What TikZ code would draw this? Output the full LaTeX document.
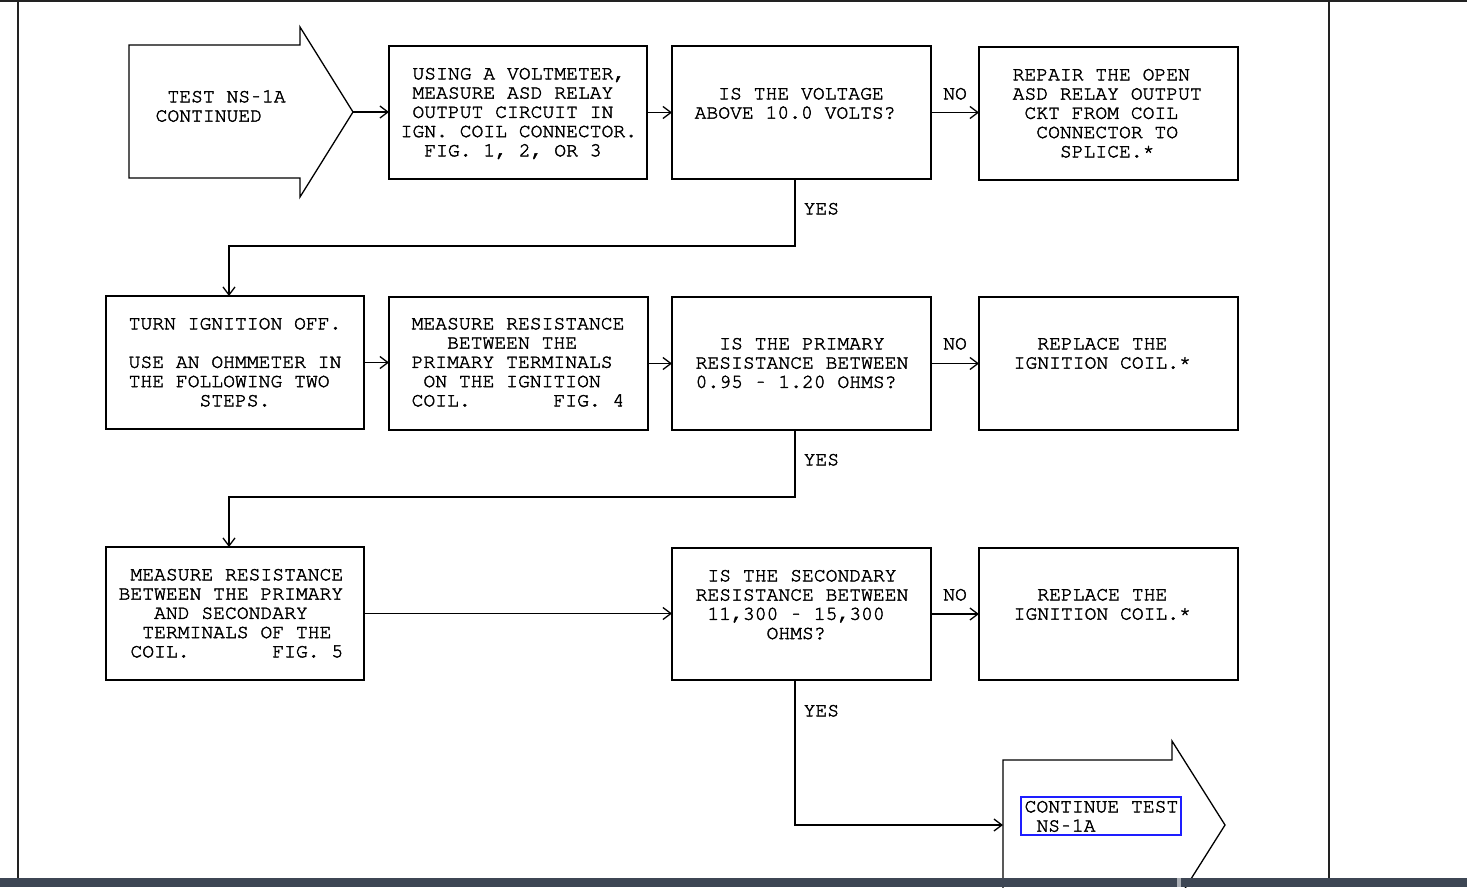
\documentclass[tikz,border=0pt]{standalone}
\usepackage[T1]{fontenc}
\usepackage{graphicx}
\usetikzlibrary{arrows.meta}
\definecolor{barc}{HTML}{3D4654}
\definecolor{gapc}{HTML}{A9ADB4}
\definecolor{framec}{HTML}{222222}
\definecolor{selc}{HTML}{1E1EFF}
\newcommand{\cf}{\fontfamily{pcr}\fontsize{19.7pt}{19.25pt}\selectfont\frenchspacing}
\newcommand{\tline}[1]{\hbox{#1}}
\newcommand{\myast}{\raisebox{3pt}{*}}
\newcommand{\hy}{\makebox[0.6em]{\scalebox{0.65}[1]{-}}}
\newcommand{\thickon}{\special{pdf:literal direct 2 Tr 0.4 w}}
\newcommand{\thickoff}{\special{pdf:literal direct 0 Tr}}
\begin{document}
\begin{tikzpicture}[x=1pt,y=-1pt,line width=1.3pt,
  >={Straight Barb[length=8pt,width=12pt]},
  box/.style={draw,line width=1.3pt,inner sep=0pt,outer sep=0pt,minimum width=259pt,minimum height=133pt},
  txt/.style={anchor=base west,inner sep=0pt,font=\cf,execute at begin node=\thickon,execute at end node=\thickoff},
  lab/.style={inner sep=0pt,font=\cf,execute at begin node=\thickon,execute at end node=\thickoff}]
\useasboundingbox (0,0) rectangle (1467,887);
\fill[white] (0,0) rectangle (1467,887);
% frame
\fill[framec] (0,0) rectangle (1467,2);
\draw[framec,line width=2pt] (18,0) -- (18,878);
\draw[framec,line width=2pt] (1329,0) -- (1329,878);
% start arrow
\draw (129,45) -- (300,45) -- (300,27) -- (353,112) -- (300,197) -- (300,178) -- (129,178) -- cycle;
\coordinate (a1tip) at (353,112);
% end arrow
\draw (1003,890) -- (1003,760) -- (1172,760) -- (1172,741) -- (1225,825) -- (1172,909);
\coordinate (ea) at (1003,825);
% boxes
\node[box,minimum width=258pt] (b1) at (518,112.5) {};
\node[box] (q1) at (801.5,112.5) {};
\node[box] (r1) at (1108.5,113.5) {};
\node[box,minimum width=258pt] (t2) at (235,362.5) {};
\node[box] (m2) at (518.5,363.5) {};
\node[box] (q2) at (801.5,363.5) {};
\node[box] (r2) at (1108.5,363.5) {};
\node[box,minimum width=258pt] (m3) at (235,613.5) {};
\node[box,minimum height=132pt] (q3) at (801.5,614) {};
\node[box,minimum height=132pt] (r3) at (1108.5,614) {};
\node[draw=selc,line width=1.3pt,inner sep=0pt,minimum width=160pt,minimum height=38pt] (sel) at (1101,816) {};
% texts
\node[txt] (ta) at (155,102.3) {\vtop{\tline{\ TEST NS\hy 1A}\tline{CONTINUED}}};
\node[txt] (tb1) at (400,79.3) {\vtop{\tline{\ USING A VOLTMETER,}\tline{\ MEASURE ASD RELAY}\tline{\ OUTPUT CIRCUIT IN}\tline{IGN. COIL CONNECTOR.}\tline{\ \ FIG. 1, 2, OR 3}}};
\node[txt] (tq1) at (694,99.3) {\vtop{\tline{\ \ IS THE VOLTAGE}\tline{ABOVE 10.0 VOLTS?}}};
\node[txt] (tr1) at (1012,80.3) {\vtop{\tline{REPAIR THE OPEN}\tline{ASD RELAY OUTPUT}\tline{\ CKT FROM COIL}\tline{\ \ CONNECTOR TO}\tline{\ \ \ \ SPLICE.\myast}}};
\node[txt] (tt2) at (128,329.3) {\vtop{\tline{TURN IGNITION OFF.}\tline{}\tline{USE AN OHMMETER IN}\tline{THE FOLLOWING TWO}\tline{\ \ \ \ \ \ STEPS.}}};
\node[txt] (tm2) at (411,329.3) {\vtop{\tline{MEASURE RESISTANCE}\tline{\ \ \ BETWEEN THE}\tline{PRIMARY TERMINALS}\tline{\ ON THE IGNITION}\tline{COIL.\ \ \ \ \ \ \ FIG. 4}}};
\node[txt] (tq2) at (695,349.3) {\vtop{\tline{\ \ IS THE PRIMARY}\tline{RESISTANCE BETWEEN}\tline{0.95 \hy{} 1.20 OHMS?}}};
\node[txt] (tr2) at (1013,349.3) {\vtop{\tline{\ \ REPLACE THE}\tline{IGNITION COIL.\myast}}};
\node[txt] (tm3) at (118,580.3) {\vtop{\tline{\ MEASURE RESISTANCE}\tline{BETWEEN THE PRIMARY}\tline{\ \ \ AND SECONDARY}\tline{\ \ TERMINALS OF THE}\tline{\ COIL.\ \ \ \ \ \ \ FIG. 5}}};
\node[txt] (tq3) at (695,581.3) {\vtop{\tline{\ IS THE SECONDARY}\tline{RESISTANCE BETWEEN}\tline{\ 11,300 \hy{} 15,300}\tline{\ \ \ \ \ \ OHMS?}}};
\node[txt] (tr3) at (1013,600.3) {\vtop{\tline{\ \ REPLACE THE}\tline{IGNITION COIL.\myast}}};
\node[txt] (tend) at (1024,812.3) {\vtop{\tline{CONTINUE TEST}\tline{\ NS\hy 1A}}};
% labels
\node[lab,anchor=base] (no1) at (955,99.3) {NO};
\node[lab,anchor=base] (no2) at (955,349.3) {NO};
\node[lab,anchor=base] (no3) at (955,600.3) {NO};
\node[lab,anchor=base west] (yes1) at (803,214.3) {YES};
\node[lab,anchor=base west] (yes2) at (803,465.3) {YES};
\node[lab,anchor=base west] (yes3) at (803,716.3) {YES};
% connectors
\coordinate (k1) at (229,246);
\coordinate (k2) at (229,497);
\draw[->] (a1tip) -- (a1tip -| b1.west);
\draw[->] (b1.east) -- (q1.west);
\draw[->] (q1.east) -- (q1.east -| r1.west);
\draw[->] ([xshift=-6.5pt]q1.south) |- (k1) -- (k1 |- t2.north);
\draw[->] (t2.east) -- (t2.east -| m2.west);
\draw[->] (m2.east) -- (q2.west);
\draw[->] (q2.east) -- (r2.west);
\draw[->] ([xshift=-6.5pt]q2.south) |- (k2) -- (k2 |- m3.north);
\draw[->] (m3.east) -- (m3.east -| q3.west);
\draw[->] (q3.east) -- (q3.east -| r3.west);
\draw[->] ([xshift=-6.5pt]q3.south) |- (ea);
% bottom bar
\fill[barc] (0,878) rectangle (1467,887);
\fill[gapc] (1177,878) rectangle (1181,887);
\end{tikzpicture}
\end{document}
